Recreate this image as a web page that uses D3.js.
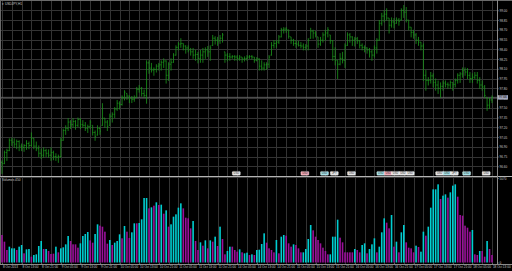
<!DOCTYPE html>
<html>
<head>
<meta charset="utf-8">
<script src="https://cdn.jsdelivr.net/npm/d3@7"></script>
<style>
html, body { margin: 0; padding: 0; background: #000; }
svg { display: block; }
text { font-family: "Liberation Sans", Arial, sans-serif; }
</style>
</head>
<body>
<svg id="chart" width="512" height="271"></svg>
<script>
// ---- data ----
var symbolLabel = "USDJPY,H1"
var indicatorLabel = "Volumes 450"
var firstOpen = 96.66
var lastPrice = 97.66

var highs = [
    96.69, 96.84, 96.87, 97.03, 97.04, 97.03, 97.01, 97.00, 96.95, 96.94,
    97.00, 96.98, 97.12, 97.03, 96.98, 96.92, 96.87, 96.89, 96.87, 96.86,
    96.89, 96.84, 96.80, 96.78, 97.04, 97.18, 97.23, 97.34, 97.31, 97.34,
    97.31, 97.35, 97.34, 97.31, 97.28, 97.24, 97.31, 97.23, 97.15, 97.23,
    97.21, 97.57, 97.34, 97.31, 97.41, 97.43, 97.51, 97.62, 97.60, 97.69,
    97.77, 97.72, 97.69, 97.68, 97.69, 97.82, 97.85, 97.82, 97.78, 98.23,
    98.23, 98.19, 98.12, 98.17, 98.19, 98.23, 98.26, 98.23, 98.20, 98.26,
    98.34, 98.46, 98.51, 98.57, 98.49, 98.46, 98.46, 98.42, 98.42, 98.39,
    98.36, 98.39, 98.42, 98.43, 98.45, 98.46, 98.62, 98.60, 98.59, 98.62,
    98.65, 98.36, 98.34, 98.34, 98.31, 98.31, 98.31, 98.31, 98.28, 98.29,
    98.31, 98.31, 98.31, 98.28, 98.28, 98.26, 98.23, 98.20, 98.20, 98.31,
    98.51, 98.54, 98.54, 98.62, 98.73, 98.74, 98.74, 98.70, 98.59, 98.56,
    98.54, 98.53, 98.51, 98.49, 98.48, 98.57, 98.73, 98.70, 98.68, 98.59,
    98.59, 98.66, 98.70, 98.74, 98.62, 98.54, 98.43, 98.23, 98.34, 98.36,
    98.49, 98.66, 98.65, 98.60, 98.59, 98.59, 98.54, 98.49, 98.46, 98.43,
    98.42, 98.39, 98.46, 98.57, 98.85, 98.96, 99.00, 99.03, 98.88, 98.89,
    98.88, 98.89, 98.88, 99.03, 99.08, 99.05, 98.85, 98.74, 98.70, 98.65,
    98.59, 98.51, 98.49, 98.08, 97.97, 98.05, 98.03, 97.95, 97.92, 97.89,
    97.92, 97.92, 97.89, 97.92, 97.89, 97.95, 98.03, 98.05, 98.12, 98.12,
    98.11, 98.05, 98.03, 98.05, 98.05, 97.97, 97.92, 97.85, 97.66, 97.65,
    97.69
]
var lows = [
    96.49, 96.64, 96.69, 96.84, 96.92, 96.89, 96.87, 96.84, 96.84, 96.83,
    96.86, 96.87, 96.91, 96.87, 96.84, 96.75, 96.72, 96.74, 96.75, 96.74,
    96.69, 96.70, 96.69, 96.66, 96.74, 97.00, 97.09, 97.15, 97.18, 97.20,
    97.17, 97.21, 97.18, 97.20, 97.15, 97.12, 97.18, 97.08, 97.00, 97.08,
    97.09, 97.23, 97.20, 97.15, 97.23, 97.28, 97.35, 97.46, 97.48, 97.54,
    97.62, 97.63, 97.58, 97.58, 97.60, 97.66, 97.74, 97.68, 97.66, 97.57,
    98.03, 98.05, 98.00, 98.05, 98.08, 98.08, 98.12, 97.88, 97.92, 98.08,
    98.20, 98.31, 98.39, 98.43, 98.39, 98.34, 98.36, 98.31, 98.26, 98.23,
    98.19, 98.20, 98.20, 98.26, 98.29, 98.23, 98.46, 98.48, 98.46, 98.49,
    98.51, 98.20, 98.22, 98.23, 98.26, 98.23, 98.23, 98.23, 98.20, 98.22,
    98.23, 98.26, 98.25, 98.20, 98.22, 98.08, 98.08, 98.08, 98.09, 98.12,
    98.31, 98.42, 98.43, 98.49, 98.59, 98.65, 98.66, 98.57, 98.49, 98.46,
    98.43, 98.45, 98.42, 98.39, 98.39, 98.39, 98.57, 98.57, 98.59, 98.43,
    98.46, 98.51, 98.54, 98.59, 98.49, 98.23, 98.16, 97.95, 98.16, 98.19,
    98.12, 98.46, 98.51, 98.46, 98.45, 98.49, 98.42, 98.39, 98.36, 98.34,
    98.28, 98.23, 98.28, 98.34, 98.54, 98.77, 98.82, 98.85, 98.65, 98.74,
    98.73, 98.80, 98.77, 98.85, 98.89, 98.82, 98.70, 98.59, 98.57, 98.49,
    98.46, 98.39, 97.92, 97.77, 97.85, 97.88, 97.82, 97.77, 97.72, 97.66,
    97.77, 97.82, 97.80, 97.80, 97.77, 97.82, 97.88, 97.89, 97.97, 98.00,
    97.95, 97.89, 97.89, 97.95, 97.88, 97.80, 97.77, 97.66, 97.46, 97.49,
    97.58
]
var closes = [
    96.64, 96.81, 96.84, 97.00, 96.97, 96.94, 96.98, 96.91, 96.89, 96.92,
    96.95, 96.92, 97.03, 96.91, 96.87, 96.80, 96.77, 96.84, 96.80, 96.77,
    96.81, 96.75, 96.74, 96.75, 97.00, 97.15, 97.18, 97.28, 97.24, 97.29,
    97.23, 97.32, 97.24, 97.23, 97.18, 97.21, 97.28, 97.12, 97.06, 97.18,
    97.14, 97.34, 97.28, 97.21, 97.37, 97.40, 97.48, 97.57, 97.55, 97.66,
    97.74, 97.68, 97.65, 97.63, 97.66, 97.78, 97.80, 97.72, 97.69, 98.19,
    98.11, 98.08, 98.09, 98.14, 98.16, 98.20, 98.22, 98.00, 98.17, 98.20,
    98.31, 98.43, 98.48, 98.49, 98.45, 98.42, 98.39, 98.36, 98.31, 98.32,
    98.26, 98.31, 98.36, 98.39, 98.36, 98.42, 98.57, 98.54, 98.53, 98.57,
    98.62, 98.31, 98.29, 98.28, 98.29, 98.28, 98.26, 98.28, 98.25, 98.26,
    98.28, 98.29, 98.28, 98.23, 98.25, 98.14, 98.11, 98.16, 98.17, 98.28,
    98.46, 98.49, 98.51, 98.59, 98.70, 98.71, 98.70, 98.60, 98.54, 98.49,
    98.48, 98.46, 98.45, 98.43, 98.45, 98.54, 98.68, 98.65, 98.62, 98.48,
    98.54, 98.62, 98.65, 98.70, 98.53, 98.29, 98.23, 98.17, 98.26, 98.23,
    98.45, 98.62, 98.59, 98.54, 98.56, 98.53, 98.46, 98.43, 98.42, 98.39,
    98.36, 98.31, 98.42, 98.54, 98.80, 98.91, 98.94, 98.88, 98.77, 98.82,
    98.79, 98.85, 98.83, 99.00, 98.97, 98.85, 98.74, 98.66, 98.62, 98.54,
    98.51, 98.45, 98.00, 97.92, 97.92, 97.99, 97.89, 97.85, 97.80, 97.83,
    97.88, 97.86, 97.85, 97.89, 97.86, 97.92, 98.00, 98.02, 98.08, 98.05,
    98.00, 97.95, 97.97, 98.00, 97.92, 97.85, 97.82, 97.69, 97.54, 97.62,
    97.66
]
var volumes = [
    1650, 1250, 750, 950, 850, 850, 750, 950, 1050, 550,
    790, 810, 350, 450, 490, 990, 1290, 810, 810, 690,
    510, 530, 950, 610, 850, 910, 1090, 1590, 1290, 1090,
    1090, 890, 1150, 1590, 1710, 1830, 1330, 1190, 1710, 2290,
    2210, 2150, 1850, 1130, 1350, 1050, 1190, 1290, 1690, 1450,
    2190, 1850, 1470, 1810, 2350, 2350, 2370, 2590, 3870, 3870,
    3250, 3310, 3410, 3610, 3450, 3470, 2930, 3130, 2150, 2290,
    2750, 2890, 3290, 3550, 3250, 2690, 2650, 2050, 2490, 1290,
    750, 1210, 1010, 1330, 850, 1330, 1250, 1550, 990, 2150,
    1410, 490, 690, 950, 950, 750, 650, 790, 610, 550,
    590, 450, 490, 450, 750, 770, 1110, 1750, 1190, 850,
    750, 610, 1350, 550, 1550, 1650, 1610, 1150, 950, 1090,
    1050, 850, 610, 610, 810, 1410, 2250, 1930, 1550, 1350,
    1150, 890, 690, 490, 490, 1550, 1550, 2570, 1490, 1210,
    610, 610, 610, 610, 810, 750, 610, 1050, 1150, 550,
    810, 1090, 1450, 610, 950, 1810, 2650, 2390, 2050, 2850,
    950, 1250, 610, 1810, 2250, 1210, 890, 850, 610, 1010,
    930, 650, 1850, 1610, 2150, 3290, 4390, 4390, 4690, 3810,
    4010, 4090, 3890, 4210, 4610, 4690, 3950, 2850, 2810, 2210,
    2090, 1850, 1950, 490, 450, 690, 690, 350, 1290, 810,
    450
]
// 1 = cyan bar, 0 = magenta bar
var volUp = [
    0, 0, 0, 1, 1, 1, 0, 1, 1, 0,
    1, 1, 0, 1, 1, 1, 1, 0, 1, 0,
    0, 0, 1, 0, 1, 1, 1, 1, 0, 0,
    0, 0, 1, 1, 1, 1, 0, 0, 1, 1,
    0, 0, 0, 0, 1, 0, 1, 1, 1, 0,
    1, 0, 0, 1, 1, 0, 1, 1, 1, 1,
    0, 1, 0, 1, 0, 1, 0, 1, 0, 1,
    1, 1, 1, 1, 0, 0, 0, 0, 1, 0,
    0, 1, 0, 1, 0, 1, 0, 1, 0, 1,
    0, 0, 1, 1, 0, 0, 0, 1, 0, 1,
    1, 0, 1, 0, 1, 1, 1, 1, 0, 0,
    0, 0, 1, 0, 1, 1, 0, 0, 0, 1,
    0, 0, 0, 1, 1, 1, 1, 0, 0, 0,
    0, 0, 0, 0, 1, 1, 1, 1, 0, 0,
    0, 0, 0, 0, 1, 0, 0, 1, 1, 0,
    1, 1, 1, 0, 1, 1, 1, 0, 0, 1,
    0, 1, 0, 1, 1, 0, 0, 0, 0, 1,
    0, 1, 1, 0, 1, 1, 1, 1, 1, 0,
    1, 1, 0, 1, 1, 1, 0, 0, 0, 0,
    0, 0, 1, 0, 0, 1, 0, 0, 1, 0,
    0
]

var priceTicks = [99.00, 98.85, 98.70, 98.55, 98.40, 98.25, 98.10, 97.95, 97.80,
    97.65, 97.50, 97.35, 97.20, 97.05, 96.90, 96.75, 96.60]
var volTicks = [5070, 0]
var timeTicks = ["8 Oct 2013", "8 Oct 13:00", "8 Oct 21:00", "9 Oct 05:00", "9 Oct 13:00",
    "9 Oct 21:00", "10 Oct 05:00", "10 Oct 13:00", "10 Oct 21:00", "11 Oct 05:00",
    "11 Oct 13:00", "11 Oct 21:00", "14 Oct 05:00", "14 Oct 13:00", "14 Oct 21:00",
    "15 Oct 05:00", "15 Oct 13:00", "15 Oct 21:00", "16 Oct 05:00", "16 Oct 13:00",
    "16 Oct 21:00", "17 Oct 05:00", "17 Oct 13:00", "17 Oct 21:00", "18 Oct 05:00",
    "18 Oct 13:00"]

// news markers along the bottom of the price window
var eventBars = [94, 122, 130, 134, 141, 153, 156, 159, 162, 165, 177, 180, 183, 188, 196]
var eventKinds = ["low", "high", "med", "low", "low", "med", "high", "low", "low", "low",
    "low", "med", "low", "med", "low"]
var eventTexts = ["USD", "USD", "USD", "JPY", "USD", "USD", "USD", "USD", "USD", "USD",
    "USD", "USD", "JPY", "USD", "USD"]

// ---- layout ----
var svg = d3.select("#chart")
var chartRight = 497
var mainTop = 0.5, mainBottom = 176
var volTop = 178, volBottom = 262.5
var axisY = 263.5
var textColor = "#c8c8c8"
var gridColor = "#343434"
var barColor = "#1c961c"

svg.append("rect").attr("width", 512).attr("height", 271).attr("fill", "#000")

var x = d3.scaleLinear().domain([0, closes.length - 1]).range([2, 492])
var y = d3.scaleLinear().domain([96.45, 99.15]).range([mainBottom, mainTop])
var vy = d3.scaleLinear().domain([0, volTicks[0]]).range([volBottom, volTop])

// grid
var grid = svg.append("g").attr("stroke", gridColor).attr("shape-rendering", "crispEdges")
grid.selectAll("line.v")
    .data(d3.range(0, closes.length, 4))
    .join("line")
    .attr("x1", function (d) { return Math.round(x(d)) + 0.5 })
    .attr("x2", function (d) { return Math.round(x(d)) + 0.5 })
    .attr("y1", mainTop)
    .attr("y2", axisY)
grid.selectAll("line.h")
    .data(priceTicks)
    .join("line")
    .attr("x1", 1)
    .attr("x2", chartRight)
    .attr("y1", function (d) { return Math.round(y(d)) + 0.5 })
    .attr("y2", function (d) { return Math.round(y(d)) + 0.5 })

// bid line
svg.append("line")
    .attr("x1", 1).attr("x2", chartRight)
    .attr("y1", y(lastPrice)).attr("y2", y(lastPrice))
    .attr("stroke", "#707070").attr("stroke-width", 0.8)

// price bars (open = previous close, kept inside the bar range)
var bars = closes.map(function (c, i) {
    var prev = i == 0 ? firstOpen : closes[i - 1]
    return {
        i: i,
        open: Math.min(highs[i], Math.max(lows[i], prev)),
        high: highs[i],
        low: lows[i],
        close: c
    }
})
var pg = svg.append("g").attr("stroke", barColor).attr("stroke-width", 0.8)
pg.selectAll("line.hl")
    .data(bars)
    .join("line")
    .attr("x1", function (d) { return x(d.i) })
    .attr("x2", function (d) { return x(d.i) })
    .attr("y1", function (d) { return y(d.high) })
    .attr("y2", function (d) { return y(d.low) + 0.5 })
pg.selectAll("line.o")
    .data(bars)
    .join("line")
    .attr("x1", function (d) { return x(d.i) - 1 })
    .attr("x2", function (d) { return x(d.i) })
    .attr("y1", function (d) { return y(d.open) })
    .attr("y2", function (d) { return y(d.open) })
pg.selectAll("line.c")
    .data(bars)
    .join("line")
    .attr("x1", function (d) { return x(d.i) })
    .attr("x2", function (d) { return x(d.i) + 1 })
    .attr("y1", function (d) { return y(d.close) })
    .attr("y2", function (d) { return y(d.close) })

// event markers
var kindFill = { low: "#e4e4e4", med: "#9fe0e6", high: "#f0a4b2" }
var ev = svg.append("g").selectAll("g")
    .data(eventBars.map(function (b, k) { return { bar: b, kind: eventKinds[k], text: eventTexts[k] } }))
    .join("g")
    .attr("transform", function (d) { return "translate(" + x(d.bar) + ",171.4)" })
ev.append("rect")
    .attr("width", 8).attr("height", 3.8).attr("rx", 0.8)
    .attr("fill", function (d) { return kindFill[d.kind] })
    .attr("stroke", "#ffffff").attr("stroke-width", 0.3)
ev.append("text")
    .attr("x", 4).attr("y", 3)
    .attr("text-anchor", "middle")
    .attr("font-size", 2.6)
    .attr("fill", "#333")
    .text(function (d) { return d.text })

// volume bars
svg.append("g").selectAll("rect")
    .data(volumes)
    .join("rect")
    .attr("x", function (d, i) { return x(i) - 0.8 })
    .attr("y", function (d) { return vy(d) })
    .attr("width", 1.6)
    .attr("height", function (d) { return vy(0) - vy(d) })
    .attr("fill", function (d, i) { return volUp[i] ? "#00ced1" : "#9a109a" })

// frame and window separator
var frame = svg.append("g").attr("shape-rendering", "crispEdges")
frame.append("line").attr("x1", 0).attr("x2", 512).attr("y1", 0.5).attr("y2", 0.5).attr("stroke", "#6a6a6a")
frame.append("line").attr("x1", 0.5).attr("x2", 0.5).attr("y1", 0).attr("y2", axisY).attr("stroke", "#6a6a6a")
frame.append("line").attr("x1", 0).attr("x2", 512).attr("y1", 176.5).attr("y2", 176.5).attr("stroke", "#b4b4b4")
frame.append("line").attr("x1", 0).attr("x2", chartRight).attr("y1", 177.5).attr("y2", 177.5).attr("stroke", "#3c3c3c")
frame.append("line").attr("x1", chartRight + 0.5).attr("x2", chartRight + 0.5).attr("y1", 0).attr("y2", axisY).attr("stroke", "#8a8a8a")
frame.append("line").attr("x1", 0).attr("x2", 512).attr("y1", axisY + 0.5).attr("y2", axisY + 0.5).attr("stroke", "#8a8a8a")

// axes
function styleAxis(g) {
    g.select(".domain").remove()
    g.selectAll(".tick line").attr("stroke", "#8a8a8a")
    g.selectAll(".tick text").attr("fill", textColor).attr("font-size", 3.1)
        .attr("font-family", "Liberation Sans, Arial, sans-serif")
}
svg.append("g")
    .attr("transform", "translate(" + chartRight + ",0)")
    .call(d3.axisRight(y).tickValues(priceTicks).tickFormat(d3.format(".2f")).tickSize(1.5).tickPadding(1))
    .call(styleAxis)
svg.append("g")
    .attr("transform", "translate(" + chartRight + ",0)")
    .call(d3.axisRight(vy).tickValues(volTicks).tickFormat(d3.format("d")).tickSize(1.5).tickPadding(1))
    .call(styleAxis)
var tAxis = svg.append("g")
    .attr("transform", "translate(0," + axisY + ")")
    .call(d3.axisBottom(x).tickValues(d3.range(0, closes.length, 8))
        .tickFormat(function (d, i) { return timeTicks[i] }).tickSize(1.5).tickPadding(1.2))
    .call(styleAxis)
tAxis.selectAll(".tick text").attr("text-anchor", "start").attr("dx", 0.4)

// current price box on the price scale
svg.append("rect")
    .attr("x", chartRight + 0.5).attr("y", y(lastPrice) - 2.2)
    .attr("width", 10.5).attr("height", 4.4)
    .attr("fill", "#a4a8bc")
svg.append("text")
    .attr("x", chartRight + 2).attr("y", y(lastPrice) + 1.1)
    .attr("font-size", 3.1).attr("fill", "#000")
    .text(d3.format(".2f")(lastPrice))

// window captions
svg.append("text").attr("x", 2).attr("y", 4.6).attr("font-size", 3.2).attr("fill", textColor)
    .text("\u25BE " + symbolLabel)
svg.append("text").attr("x", 2).attr("y", 181.4).attr("font-size", 3.2).attr("fill", textColor)
    .text(indicatorLabel)
</script>
</body>
</html>
